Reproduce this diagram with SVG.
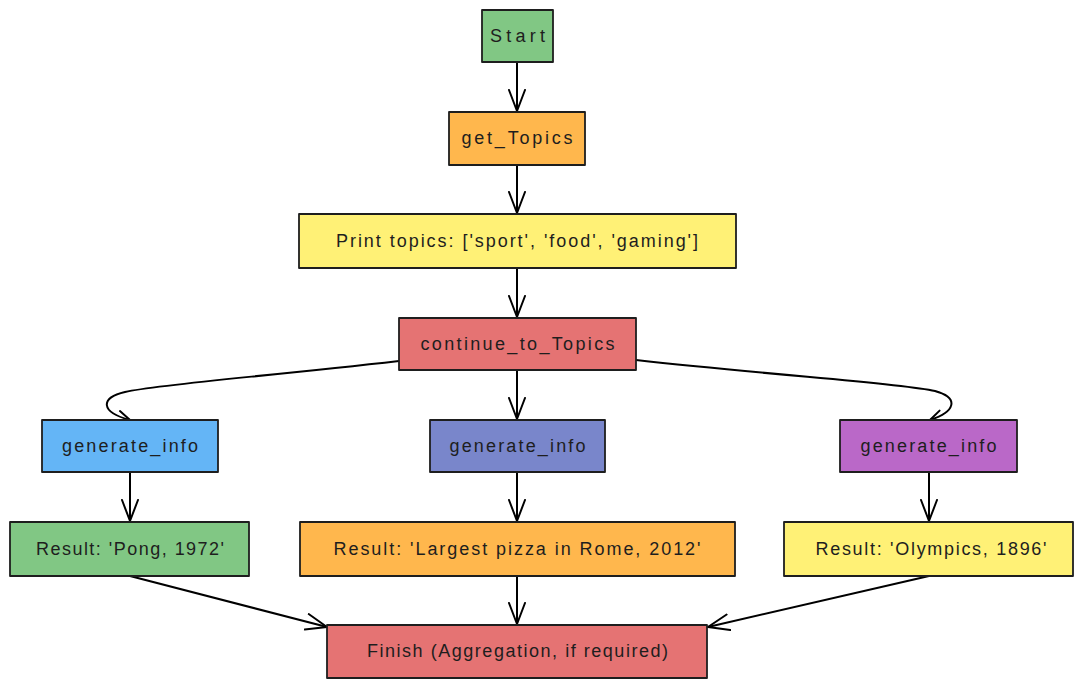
<svg xmlns="http://www.w3.org/2000/svg" width="1083" height="688" viewBox="0 0 1083 688">
<defs>
<style>
.box{stroke:#1e1e1e;stroke-width:1.8;stroke-linejoin:round}
.lbl{font-family:"Liberation Sans",Arial,sans-serif;font-size:18px;fill:#1e1e1e;text-anchor:middle}
.edge{fill:none;stroke:#000;stroke-width:2;stroke-linecap:round}
.green{fill:#81c784}.orange{fill:#ffb74d}.yellow{fill:#fff176}.red{fill:#e57373}
.blue{fill:#64b5f6}.indigo{fill:#7986cb}.purple{fill:#ba68c8}
</style>
<marker id="arr" viewBox="-22 -10 24 20" refX="0" refY="0" markerWidth="24" markerHeight="20" markerUnits="userSpaceOnUse" orient="auto">
<path d="M-21,-8 L0,0 L-21,8" fill="none" stroke="#000" stroke-width="2" stroke-linecap="round" stroke-linejoin="round"/>
</marker>
<marker id="arrs" viewBox="-14 -8 16 16" refX="0" refY="0" markerWidth="16" markerHeight="16" markerUnits="userSpaceOnUse" orient="auto">
<path d="M-12,-6 L0,0 L-12,6" fill="none" stroke="#000" stroke-width="2" stroke-linecap="round" stroke-linejoin="round"/>
</marker>
</defs>
<rect width="1083" height="688" fill="#ffffff"/>
<g id="connectors">
<path class="edge" d="M517,62 L517,111" marker-end="url(#arr)"/>
<path class="edge" d="M517,165 L517,213" marker-end="url(#arr)"/>
<path class="edge" d="M517,268 L517,317" marker-end="url(#arr)"/>
<path class="edge" d="M517,370 L517,419" marker-end="url(#arr)"/>
<path class="edge" d="M399,361 C260,377 160,384 125,392 C100,398 100,412 130,420" marker-end="url(#arrs)"/>
<path class="edge" d="M636,360 C780,376 900,383 935,391 C960,398 955,412 930,420" marker-end="url(#arrs)"/>
<path class="edge" d="M130,472 L130,521" marker-end="url(#arr)"/>
<path class="edge" d="M517,472 L517,521" marker-end="url(#arr)"/>
<path class="edge" d="M929,472 L929,521" marker-end="url(#arr)"/>
<path class="edge" d="M130,576 L327,627" marker-end="url(#arr)"/>
<path class="edge" d="M517,576 L517,624" marker-end="url(#arr)"/>
<path class="edge" d="M929,576 L708,627" marker-end="url(#arr)"/>
</g>
<g id="start"><rect class="box green" x="482" y="10" width="71" height="52"/><text class="lbl" x="517.5" y="42" textLength="55">Start</text></g>
<g id="get_topics"><rect class="box orange" x="449" y="112" width="136" height="53"/><text class="lbl" x="517" y="144" textLength="111">get_Topics</text></g>
<g id="print_topics"><rect class="box yellow" x="299" y="214" width="437" height="54"/><text class="lbl" x="517" y="247" textLength="362">Print topics: ['sport', 'food', 'gaming']</text></g>
<g id="continue_to_topics"><rect class="box red" x="399" y="318" width="237" height="52"/><text class="lbl" x="517.5" y="350" textLength="194">continue_to_Topics</text></g>
<g id="generate_info_1"><rect class="box blue" x="42" y="420" width="176" height="52"/><text class="lbl" x="130" y="452" textLength="136">generate_info</text></g>
<g id="generate_info_2"><rect class="box indigo" x="430" y="420" width="175" height="52"/><text class="lbl" x="517.5" y="452" textLength="136">generate_info</text></g>
<g id="generate_info_3"><rect class="box purple" x="840" y="420" width="177" height="52"/><text class="lbl" x="928.5" y="452" textLength="136">generate_info</text></g>
<g id="result_pong"><rect class="box green" x="10" y="522" width="239" height="54"/><text class="lbl" x="130" y="555" textLength="188">Result: 'Pong, 1972'</text></g>
<g id="result_pizza"><rect class="box orange" x="300" y="522" width="435" height="54"/><text class="lbl" x="517" y="555" textLength="367">Result: 'Largest pizza in Rome, 2012'</text></g>
<g id="result_olympics"><rect class="box yellow" x="784" y="522" width="289" height="54"/><text class="lbl" x="931" y="555" textLength="231">Result: 'Olympics, 1896'</text></g>
<g id="finish"><rect class="box red" x="327" y="625" width="380" height="53"/><text class="lbl" x="517.5" y="657" textLength="301">Finish (Aggregation, if required)</text></g>
</svg>
